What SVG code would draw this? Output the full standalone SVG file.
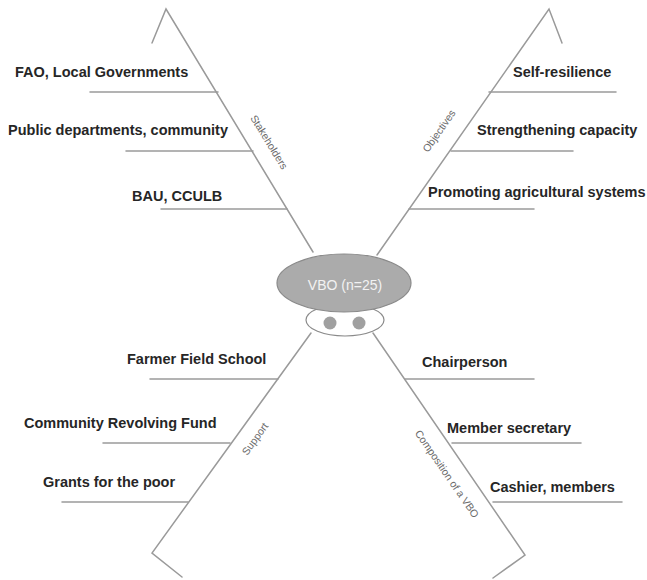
<svg xmlns="http://www.w3.org/2000/svg" width="647" height="580" viewBox="0 0 647 580">
<style>
.ln{stroke:#9a9a9a;stroke-width:1.5;fill:none;stroke-linecap:round}
.lbl{font-family:"Liberation Sans",Arial,sans-serif;font-weight:bold;font-size:14.5px;fill:#262626}
.cat{font-family:"Liberation Sans",Arial,sans-serif;font-size:10.5px;fill:#6a6a6a;text-anchor:middle}
</style>
<rect width="647" height="580" fill="#ffffff"/>
<g id="connectors">
<path class="ln" d="M152,43 L166,9 L313,252"/>
<path class="ln" d="M562,43 L549,9 L377,255"/>
<path class="ln" d="M311,333 L152,553 L182,577"/>
<path class="ln" d="M373,333 L525,555 L493,578"/>
</g>
<g id="stakeholders">
<line class="ln" x1="90" y1="92" x2="218" y2="92"/>
<line class="ln" x1="126" y1="151" x2="253" y2="151"/>
<line class="ln" x1="161" y1="209" x2="287" y2="209"/>
<text class="lbl" x="15" y="77">FAO, Local Governments</text>
<text class="lbl" x="8" y="135">Public departments, community</text>
<text class="lbl" x="132" y="201">BAU, CCULB</text>
<text class="cat" transform="translate(266,144) rotate(58.4)">Stakeholders</text>
</g>
<g id="objectives">
<line class="ln" x1="489" y1="92" x2="616" y2="92"/>
<line class="ln" x1="451" y1="151" x2="573" y2="151"/>
<line class="ln" x1="409" y1="209" x2="534" y2="209"/>
<text class="lbl" x="513" y="77">Self-resilience</text>
<text class="lbl" x="477" y="135">Strengthening capacity</text>
<text class="lbl" x="428" y="197">Promoting agricultural systems</text>
<text class="cat" transform="translate(442,133) rotate(-54.9)">Objectives</text>
</g>
<g id="support">
<line class="ln" x1="150" y1="379" x2="278" y2="379"/>
<line class="ln" x1="103" y1="443" x2="230" y2="443"/>
<line class="ln" x1="62" y1="502" x2="188" y2="502"/>
<text class="lbl" x="127" y="364">Farmer Field School</text>
<text class="lbl" x="24" y="428">Community Revolving Fund</text>
<text class="lbl" x="43" y="487">Grants for the poor</text>
<text class="cat" transform="translate(258,441) rotate(-54.3)">Support</text>
</g>
<g id="composition">
<line class="ln" x1="405" y1="379" x2="534" y2="379"/>
<line class="ln" x1="452" y1="443" x2="581" y2="443"/>
<line class="ln" x1="493" y1="502" x2="622" y2="502"/>
<text class="lbl" x="422" y="367">Chairperson</text>
<text class="lbl" x="447" y="433">Member secretary</text>
<text class="lbl" x="490" y="492">Cashier, members</text>
<text class="cat" transform="translate(444,476) rotate(55.4)">Composition of a VBO</text>
</g>
<g id="snout">
<ellipse cx="345" cy="320" rx="39" ry="16" fill="#ffffff" stroke="#8a8a8a" stroke-width="1.2"/>
<circle cx="330" cy="323" r="6.5" fill="#a0a0a0"/>
<circle cx="359" cy="323" r="6.5" fill="#a0a0a0"/>
</g>
<g id="vbo">
<ellipse cx="344" cy="283" rx="67" ry="29" fill="#ababab" stroke="#8a8a8a" stroke-width="1.2"/>
<text x="345" y="290" font-family="Liberation Sans, Arial, sans-serif" font-size="14" fill="#f2f2f2" text-anchor="middle">VBO (n=25)</text>
</g>
</svg>
